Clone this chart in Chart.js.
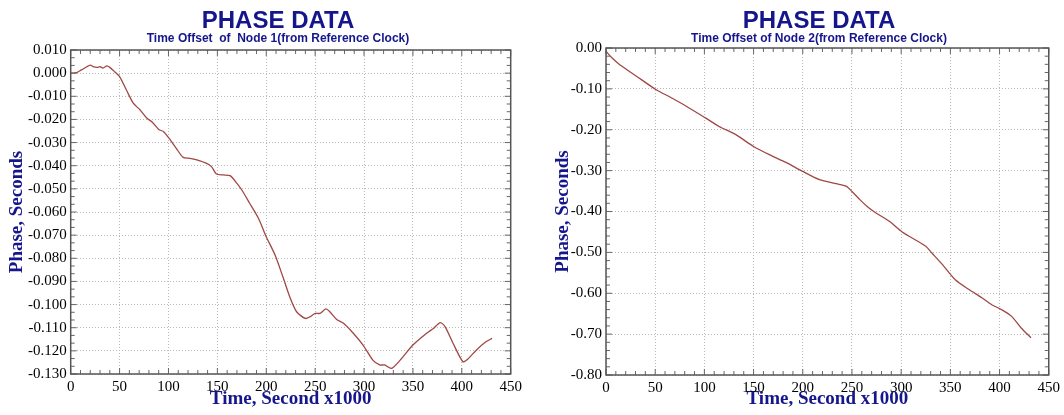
<!DOCTYPE html>
<html>
<head>
<meta charset="utf-8">
<script src="https://cdn.jsdelivr.net/npm/chart.js@4.4.1/dist/chart.umd.min.js"></script>
<style>
  html, body { margin: 0; padding: 0; background: #fff; }
  #wrap { position: relative; width: 1064px; height: 415px; }
  .pane { position: absolute; top: 0; width: 532px; height: 415px; }
</style>
</head>
<body>
<div id="wrap">
  <div class="pane" style="left:0"><canvas id="c1" width="532" height="415"></canvas></div>
  <div class="pane" style="left:532px"><canvas id="c2" width="532" height="415"></canvas></div>
</div>
<script>
// ---- Data ----
const mainTitle = 'PHASE DATA';
const subtitle1 = 'Time Offset  of  Node 1(from Reference Clock)';
const subtitle2 = 'Time Offset of Node 2(from Reference Clock)';
const xAxisTitle = 'Time, Second x1000';
const yAxisTitle = 'Phase, Seconds';

const node1Time = [0, 6, 11, 20, 23, 27, 30, 33, 37, 40, 45, 50, 57, 64, 71, 78, 83, 90, 95, 102,
  108, 115, 122, 129, 139, 144, 149, 156, 163, 170, 175, 183, 192, 200, 209, 217, 224, 231, 240,
  245, 250, 255, 261, 265, 272, 279, 289, 299, 309, 316, 321, 328, 337, 350, 364, 371, 378, 383,
  391, 401, 405, 415, 425, 431];
const node1Phase = [0.0000, 0.0002, 0.0014, 0.0035, 0.0028, 0.0025, 0.0028, 0.0022, 0.0031, 0.0025,
  0.0006, -0.0015, -0.0073, -0.0130, -0.0159, -0.0195, -0.0210, -0.0243, -0.0253, -0.0289,
  -0.0325, -0.0364, -0.0368, -0.0375, -0.0390, -0.0404, -0.0436, -0.0440, -0.0443, -0.0476,
  -0.0505, -0.0562, -0.0627, -0.0707, -0.0786, -0.0880, -0.0966, -0.1031, -0.1060,
  -0.1052, -0.1038, -0.1038, -0.1019, -0.1031, -0.1064, -0.1081, -0.1124, -0.1175, -0.1240, -0.1261,
  -0.1261, -0.1276, -0.1240, -0.1175, -0.1124, -0.1103, -0.1078, -0.1096,
  -0.1167, -0.1247, -0.1240, -0.1196, -0.1160, -0.1146];

const node2Time = [0, 6, 14, 31, 51, 65, 82, 101, 115, 132, 150, 166, 183, 200, 217, 234, 244, 250,
  258, 267, 274, 288, 301, 325, 331, 342, 355, 369, 382, 392, 402, 412, 422, 432];
const node2Phase = [-0.008, -0.024, -0.041, -0.069, -0.102, -0.120, -0.143, -0.171, -0.192, -0.212,
  -0.241, -0.261, -0.280, -0.302, -0.322, -0.332, -0.338, -0.351, -0.371, -0.391, -0.403, -0.424,
  -0.450, -0.485, -0.501, -0.530, -0.567, -0.591, -0.611, -0.628, -0.640, -0.656, -0.685, -0.709];

const xTickMin = 0, xTickMax = 450, xTickStep = 50, xMinorStep = 10;
const y1Min = -0.13, y1Max = 0.01, y1Step = 0.01, y1Minor = 0.01 / 3;
const y2Min = -0.8, y2Max = 0.0, y2Step = 0.1, y2Minor = 0.02;

// ---- Styles ----
const NAVY = '#15158c';
const LINE = '#a04844';
const SERIF = '"Liberation Serif", "Times New Roman", serif';
const SANS = '"Liberation Sans", Arial, sans-serif';

// Plugin: titles drawn as text above the plot
const titlePlugin = {
  id: 'phaseTitles',
  afterDraw(chart, args, opts) {
    const ctx = chart.ctx;
    ctx.save();
    ctx.fillStyle = NAVY;
    ctx.textAlign = 'center';
    ctx.textBaseline = 'alphabetic';
    ctx.font = 'bold 24px ' + SANS;
    ctx.fillText(opts.title, opts.cx, 28);
    ctx.font = 'bold 12px ' + SANS;
    ctx.fillText(opts.subtitle, opts.cx, 42);
    ctx.restore();
  }
};

// Plugin: frame with inward major/minor ticks on all four sides
const framePlugin = {
  id: 'frameTicks',
  afterDatasetsDraw(chart, args, opts) {
    const {ctx, chartArea: a, scales: {x, y}} = chart;
    ctx.save();
    ctx.strokeStyle = '#666';
    ctx.lineWidth = 1;
    ctx.beginPath();
    const nx = Math.round((x.max - x.min) / opts.xMinor);
    for (let i = 0; i <= nx; i++) {
      const v = x.min + i * opts.xMinor;
      const major = Math.abs(v / opts.xMajor - Math.round(v / opts.xMajor)) < 1e-6;
      const len = major ? 6 : 4;
      const px = x.getPixelForValue(v);
      ctx.moveTo(px, a.bottom); ctx.lineTo(px, a.bottom - len);
      ctx.moveTo(px, a.top); ctx.lineTo(px, a.top + len);
    }
    const ny = Math.round((y.max - y.min) / opts.yMinor);
    for (let i = 0; i <= ny; i++) {
      const v = y.min + i * opts.yMinor;
      const r = v / opts.yMajor;
      const major = Math.abs(r - Math.round(r)) < 1e-6;
      const len = major ? 6 : 4;
      const py = y.getPixelForValue(v);
      ctx.moveTo(a.left, py); ctx.lineTo(a.left + len, py);
      ctx.moveTo(a.right, py); ctx.lineTo(a.right - len, py);
    }
    ctx.stroke();
    ctx.strokeStyle = '#555';
    ctx.lineWidth = 1.5;
    ctx.strokeRect(a.left, a.top, a.right - a.left, a.bottom - a.top);
    ctx.restore();
  }
};

function makeChart(id, xs, ys, cfg) {
  const pts = xs.map((t, i) => ({x: t, y: ys[i]}));
  return new Chart(document.getElementById(id), {
    type: 'line',
    data: {
      datasets: [{
        data: pts,
        borderColor: LINE,
        borderWidth: 1.3,
        pointRadius: 0,
        tension: 0.25,
        fill: false
      }]
    },
    options: {
      responsive: false,
      animation: false,
      layout: {padding: {top: cfg.top, right: cfg.right, left: 0, bottom: 0}},
      plugins: {
        legend: {display: false},
        tooltip: {enabled: false},
        phaseTitles: {title: mainTitle, subtitle: cfg.subtitle, cx: cfg.cx},
        frameTicks: {xMinor: xMinorStep, xMajor: xTickStep, yMinor: cfg.yMinor, yMajor: cfg.yStep}
      },
      scales: {
        x: {
          type: 'linear',
          min: xTickMin, max: xTickMax,
          afterFit(s) { s.height = cfg.xH; },
          ticks: {
            stepSize: xTickStep, autoSkip: false, maxRotation: 0, padding: 4,
            color: '#000', font: {family: SERIF, size: 15},
            callback: v => String(v)
          },
          grid: {color: '#b8b8b8', lineWidth: 1, drawTicks: false},
          border: {display: false, dash: [1, 2]},
          title: {
            display: true, text: xAxisTitle, color: NAVY,
            font: {family: SERIF, size: 19, weight: 'bold'},
            padding: {top: 0, bottom: 5}
          }
        },
        y: {
          type: 'linear',
          min: cfg.yMin, max: cfg.yMax,
          afterFit(s) { s.width = cfg.yW; },
          ticks: {
            stepSize: cfg.yStep, autoSkip: false, padding: 4,
            color: '#000', font: {family: SERIF, size: 15},
            callback: v => { const s = v.toFixed(cfg.dec); return /^-0\.0+$/.test(s) ? s.slice(1) : s; }
          },
          grid: {color: '#b8b8b8', lineWidth: 1, drawTicks: false},
          border: {display: false, dash: [1, 2]},
          title: {
            display: true, text: yAxisTitle, color: NAVY,
            font: {family: SERIF, size: 19, weight: 'bold'},
            padding: {top: cfg.yTitlePad, bottom: 0}
          }
        }
      }
    },
    plugins: [titlePlugin, framePlugin]
  });
}

makeChart('c1', node1Time, node1Phase, {
  subtitle: subtitle1, cx: 278, top: 50, right: 21.3, xH: 41, yW: 70.7,
  yMin: y1Min, yMax: y1Max, yStep: y1Step, yMinor: y1Minor, dec: 3, yTitlePad: 6
});
makeChart('c2', node2Time, node2Phase, {
  subtitle: subtitle2, cx: 287, top: 48, right: 13.3, xH: 40, yW: 74,
  yMin: y2Min, yMax: y2Max, yStep: y2Step, yMinor: y2Minor, dec: 2, yTitlePad: 20
});
</script>
</body>
</html>
